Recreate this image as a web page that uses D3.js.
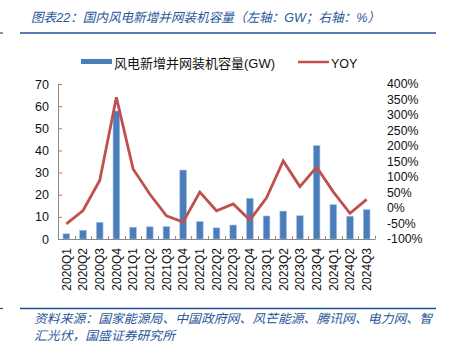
<!DOCTYPE html>
<html>
<head>
<meta charset="utf-8">
<script src="https://cdn.jsdelivr.net/npm/d3@7"></script>
<style>
  html, body { margin: 0; padding: 0; background: #fff; }
  svg { display: block; }
  text { font-family: "Liberation Sans", Arial, "Noto Sans CJK SC", sans-serif; }
</style>
</head>
<body>
<svg id="chart" width="450" height="341"></svg>
<script>
// Quarterly categories
const quarters = ["2020Q1","2020Q2","2020Q3","2020Q4","2021Q1","2021Q2","2021Q3","2021Q4",
  "2022Q1","2022Q2","2022Q3","2022Q4","2023Q1","2023Q2","2023Q3","2023Q4",
  "2024Q1","2024Q2","2024Q3"];
// New grid-connected wind capacity (GW)
const capacityGW = [2.36, 3.96, 7.54, 57.81, 5.33, 5.51, 5.59, 31.14,
  7.9, 5.04, 6.3, 18.4, 10.4, 12.6, 10.5, 42.2,
  15.5, 10.3, 13.3];
// Year-over-year growth (%)
const yoyPct = [-51, -8, 89, 357, 126, 45, -25, -45,
  51, -9, 13, -39, 33, 152, 69, 132,
  52, -17, 28];
const leftTicks = [0, 10, 20, 30, 40, 50, 60, 70];
const rightTicks = [-100, -50, 0, 50, 100, 150, 200, 250, 300, 350, 400];

const titleText = "图表22：国内风电新增并网装机容量（左轴：GW；右轴：%）";
const sourceLines = ["资料来源：国家能源局、中国政府网、风芒能源、腾讯网、电力网、智",
  "汇光伏，国盛证券研究所"];
const legendLabels = ["风电新增并网装机容量(GW)", "YOY"];

const svg = d3.select("#chart");
const navy = "#2A5699";
const barColor = "#4A7EBB";
const lineColor = "#C0504D";
const axisColor = "#898989";

// Header
svg.append("text")
  .attr("x", 31).attr("y", 22)
  .attr("font-size", 12.8).attr("font-style", "italic")
  .attr("fill", navy)
  .attr("textLength", 349).attr("lengthAdjust", "spacingAndGlyphs")
  .text(titleText);
svg.append("line").attr("x1", 20).attr("x2", 436).attr("y1", 33).attr("y2", 33)
  .attr("stroke", "#1F4E99").attr("stroke-width", 1.5);
svg.append("line").attr("x1", 0).attr("x2", 3).attr("y1", 33).attr("y2", 33)
  .attr("stroke", "#1F4E99").attr("stroke-width", 1.2);

// Footer
svg.append("line").attr("x1", 20).attr("x2", 436).attr("y1", 308.5).attr("y2", 308.5)
  .attr("stroke", "#1F4E99").attr("stroke-width", 1.5);
svg.append("line").attr("x1", 0).attr("x2", 3).attr("y1", 308.5).attr("y2", 308.5)
  .attr("stroke", "#1F4E99").attr("stroke-width", 1.2);
svg.selectAll("text.src").data(sourceLines).enter().append("text")
  .attr("class", "src")
  .attr("x", 34).attr("y", (d, i) => 323 + i * 16.5)
  .attr("font-size", 12.3).attr("font-style", "italic")
  .attr("fill", navy)
  .attr("textLength", (d, i) => i === 0 ? 398 : 141)
  .attr("lengthAdjust", "spacingAndGlyphs")
  .text(d => d);

// Scales
const plotLeft = 58, plotRight = 375, plotTop = 84, plotBottom = 239;
const x = d3.scaleBand().domain(quarters).range([plotLeft, plotRight])
  .paddingInner(0.6).paddingOuter(0.3);
const yL = d3.scaleLinear().domain([0, 70]).range([plotBottom, plotTop]);
const yR = d3.scaleLinear().domain([-100, 400]).range([plotBottom, plotTop]);
const cx = d => x(d) + x.bandwidth() / 2;

// Bars
svg.append("g").selectAll("rect").data(quarters).enter().append("rect")
  .attr("x", d => x(d))
  .attr("y", (d, i) => yL(capacityGW[i]))
  .attr("width", x.bandwidth())
  .attr("height", (d, i) => yL(0) - yL(capacityGW[i]))
  .attr("fill", barColor)
  .attr("stroke", "#A9C2E2").attr("stroke-width", 0.6);

// Left axis
const gL = svg.append("g").attr("transform", `translate(${plotLeft},0)`)
  .call(d3.axisLeft(yL).tickValues(leftTicks).tickSizeInner(-4).tickSizeOuter(0).tickPadding(9));
gL.select(".domain").attr("stroke", axisColor);
gL.selectAll(".tick line").attr("stroke", axisColor);
gL.selectAll(".tick text").attr("font-size", 12.5).attr("fill", "#111")
  .attr("font-family", "'Liberation Sans', Arial, sans-serif");

// Right axis (labels only)
const gR = svg.append("g").attr("transform", `translate(${plotRight},0)`)
  .call(d3.axisRight(yR).tickValues(rightTicks).tickSize(0).tickPadding(12).tickFormat(d => d + "%"));
gR.select(".domain").remove();
gR.selectAll(".tick text").attr("font-size", 12.3).attr("fill", "#111")
  .attr("font-family", "'Liberation Sans', Arial, sans-serif");

// Category baseline with boundary ticks pointing up
const gX = svg.append("g");
gX.append("line").attr("x1", plotLeft).attr("x2", plotRight)
  .attr("y1", plotBottom + 0.5).attr("y2", plotBottom + 0.5).attr("stroke", axisColor);
const gap = x.step() - x.bandwidth();
const bounds = quarters.map(d => x(d) - gap / 2).concat([x(quarters[quarters.length - 1]) + x.bandwidth() + gap / 2]);
gX.selectAll("line.b").data(bounds).enter().append("line").attr("class", "b")
  .attr("x1", d => Math.round(d) + 0.5).attr("x2", d => Math.round(d) + 0.5)
  .attr("y1", plotBottom - 3).attr("y2", plotBottom + 0.5)
  .attr("stroke", axisColor);
gX.selectAll("text").data(quarters).enter().append("text")
  .attr("transform", d => `translate(${cx(d) + 4.3},${plotBottom + 9}) rotate(-90)`)
  .attr("text-anchor", "end")
  .attr("font-size", 12).attr("fill", "#111")
  .text(d => d);

// YOY line
const line = d3.line().x((d, i) => cx(quarters[i])).y(d => yR(d));
svg.append("path").datum(yoyPct)
  .attr("d", line)
  .attr("fill", "none").attr("stroke", lineColor).attr("stroke-width", 2.8)
  .attr("stroke-linejoin", "miter");

// Legend
const lg = svg.append("g");
lg.append("rect").attr("x", 81).attr("y", 59).attr("width", 31).attr("height", 5).attr("fill", barColor);
lg.append("text").attr("x", 114).attr("y", 67.5).attr("font-size", 13).attr("fill", "#111")
  .text(legendLabels[0]);
lg.append("line").attr("x1", 298).attr("x2", 329).attr("y1", 62).attr("y2", 62)
  .attr("stroke", lineColor).attr("stroke-width", 2.5);
lg.append("text").attr("x", 331).attr("y", 67.5).attr("font-size", 12.5).attr("fill", "#111")
  .text(legendLabels[1]);
</script>
</body>
</html>
